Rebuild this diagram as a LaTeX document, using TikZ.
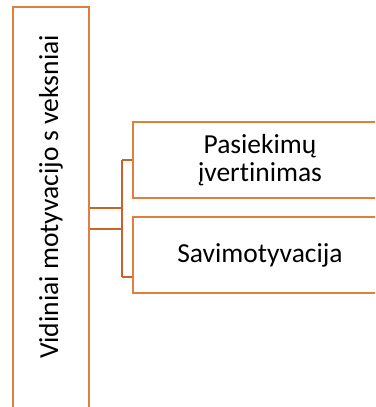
\documentclass[tikz,border=0pt]{standalone}
\usepackage{fontspec}
\setmainfont{Carlito}[Ligatures=NoCommon]
\usepackage{tikz}
\usetikzlibrary{positioning}
\usetikzlibrary{calc}
\definecolor{boxorange}{RGB}{226,126,60}
\definecolor{linkorange}{RGB}{200,100,40}
\tikzstyle{tallbox}=[draw=boxorange,line width=2.6pt,shape=rectangle,fill=white,minimum width=76pt,minimum height=423pt,inner sep=0pt]
\tikzstyle{itembox}=[draw=boxorange,line width=2.6pt,shape=rectangle,fill=white,minimum width=254pt,minimum height=76pt,inner sep=0pt,align=center,font=\fontsize{27.5}{28}\selectfont]
\tikzstyle{link}=[line width=2.2pt,color=linkorange]

\begin{document}
\begin{tikzpicture}[x=1pt,y=-1pt]

	\useasboundingbox (0,0) rectangle (375,407);
	\clip (0,0) rectangle (375,407);

	% Connectors
	\coordinate (tapA) at (122, 208);
	\coordinate (tapB) at (122, 229);
	\coordinate (busTop) at (122, 160);
	\coordinate (busBot) at (122, 277);

	% Factors
	\node[tallbox] (factors) at (51, 218.5) {};
	\node[rotate=90, font=\fontsize{27.5}{28}\selectfont] (factorslabel) at (51, 197) {Vidiniai motyvacijo s veksniai};

	% Items
	\node[itembox] (achieve) at (260, 160) {Pasiekimų\\įvertinimas};
	\node[itembox] (selfmot) at (260, 255) {Savimotyvacija};

	\draw[link] (factors.east |- tapA) -- (tapA);
	\draw[link] (factors.east |- tapB) -- (tapB);
	\draw[link] (busTop) -- (busBot);
	\draw[link] (busTop) -- (achieve.west |- busTop);
	\draw[link] (busBot) -- (selfmot.west |- busBot);

\end{tikzpicture}
\end{document}
